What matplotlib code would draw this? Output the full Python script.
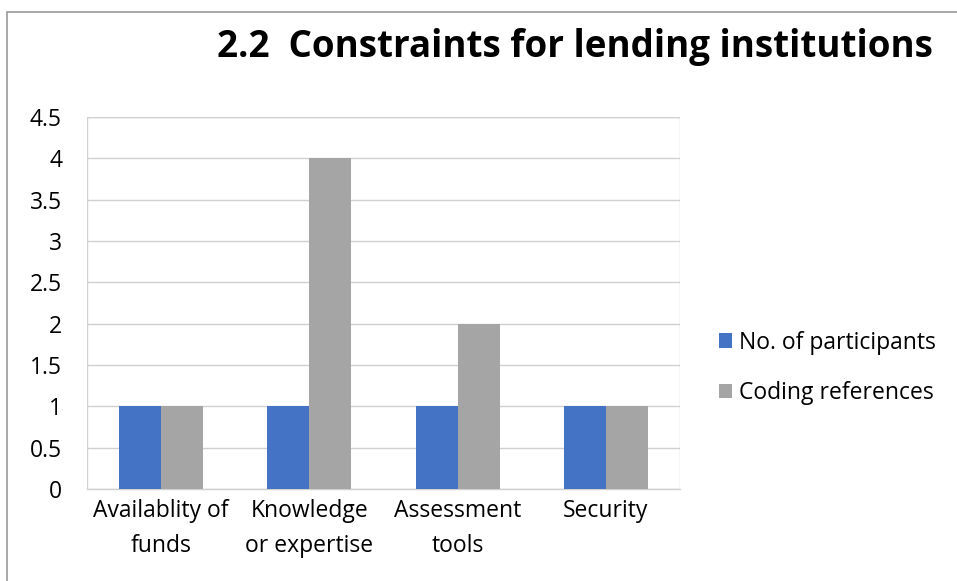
import numpy as np
import matplotlib.pyplot as plt
from matplotlib.patches import Rectangle

plt.rcParams['font.family'] = ['Open Sans', 'DejaVu Sans']

CATEGORIES = ["Availablity of\nfunds", "Knowledge\nor expertise", "Assessment\ntools", "Security"]
PARTICIPANTS = [1, 1, 1, 1]
CODING_REFS = [1, 4, 2, 1]
SERIES_NAMES = ["No. of participants", "Coding references"]
Y_TICKS = [0, 0.5, 1, 1.5, 2, 2.5, 3, 3.5, 4, 4.5]

BLUE = "#4472C4"
GRAY = "#A5A5A5"

W, H = 957, 581
fig = plt.figure(figsize=(W / 100, H / 100), dpi=100)

# outer chart frame, cut off on the right and bottom like the screenshot
fig.patches.append(Rectangle((7 / W, -0.02), 1.1, 1 - 12 / H + 0.02,
                             transform=fig.transFigure, fill=False,
                             edgecolor="#9a9a9a", linewidth=1.2))

ax = fig.add_axes([87 / W, 1 - 489 / H, (680 - 87) / W, (489 - 117) / H])

x = np.arange(len(CATEGORIES))
bw = 0.284
ax.bar(x - bw / 2, PARTICIPANTS, bw, color=BLUE, label=SERIES_NAMES[0], zorder=3)
ax.bar(x + bw / 2, CODING_REFS, bw, color=GRAY, label=SERIES_NAMES[1], zorder=3)

ax.set_xlim(-0.5, len(CATEGORIES) - 0.5)
ax.set_ylim(0, 4.5)
ax.set_yticks(Y_TICKS)
ax.set_yticklabels([f"{t:g}" for t in Y_TICKS], fontsize=16.5)
ax.set_xticks(x)
ax.set_xticklabels(CATEGORIES, fontsize=16.5, linespacing=1.65)
ax.tick_params(axis="y", length=0, pad=18)
ax.tick_params(axis="x", length=0, pad=7)

ax.yaxis.grid(True, color="#d0d0d0", linewidth=1, zorder=0)
for s in ["top", "right", "left"]:
    ax.spines[s].set_visible(False)
ax.spines["bottom"].set_color("#d0d0d0")
ax.spines["bottom"].set_linewidth(1)
ax.axvline(-0.5, color="#d0d0d0", linewidth=1, zorder=1)
ax.axvline(len(CATEGORIES) - 0.5, color="#d0d0d0", linewidth=1, zorder=1)
ax.axhline(4.5, color="#d0d0d0", linewidth=1, zorder=1)

fig.text(575 / W, 1 - 47 / H, "2.2  Constraints for lending institutions",
         ha="center", va="center", fontsize=26.5, fontweight="bold")

fig.legend(loc="center left", bbox_to_anchor=(698 / W, 1 - 368 / H),
           frameon=False, fontsize=16.5, handlelength=0.6, handleheight=0.6,
           handletextpad=0.3, labelspacing=1.15)

fig.savefig("out.png", dpi=100)
